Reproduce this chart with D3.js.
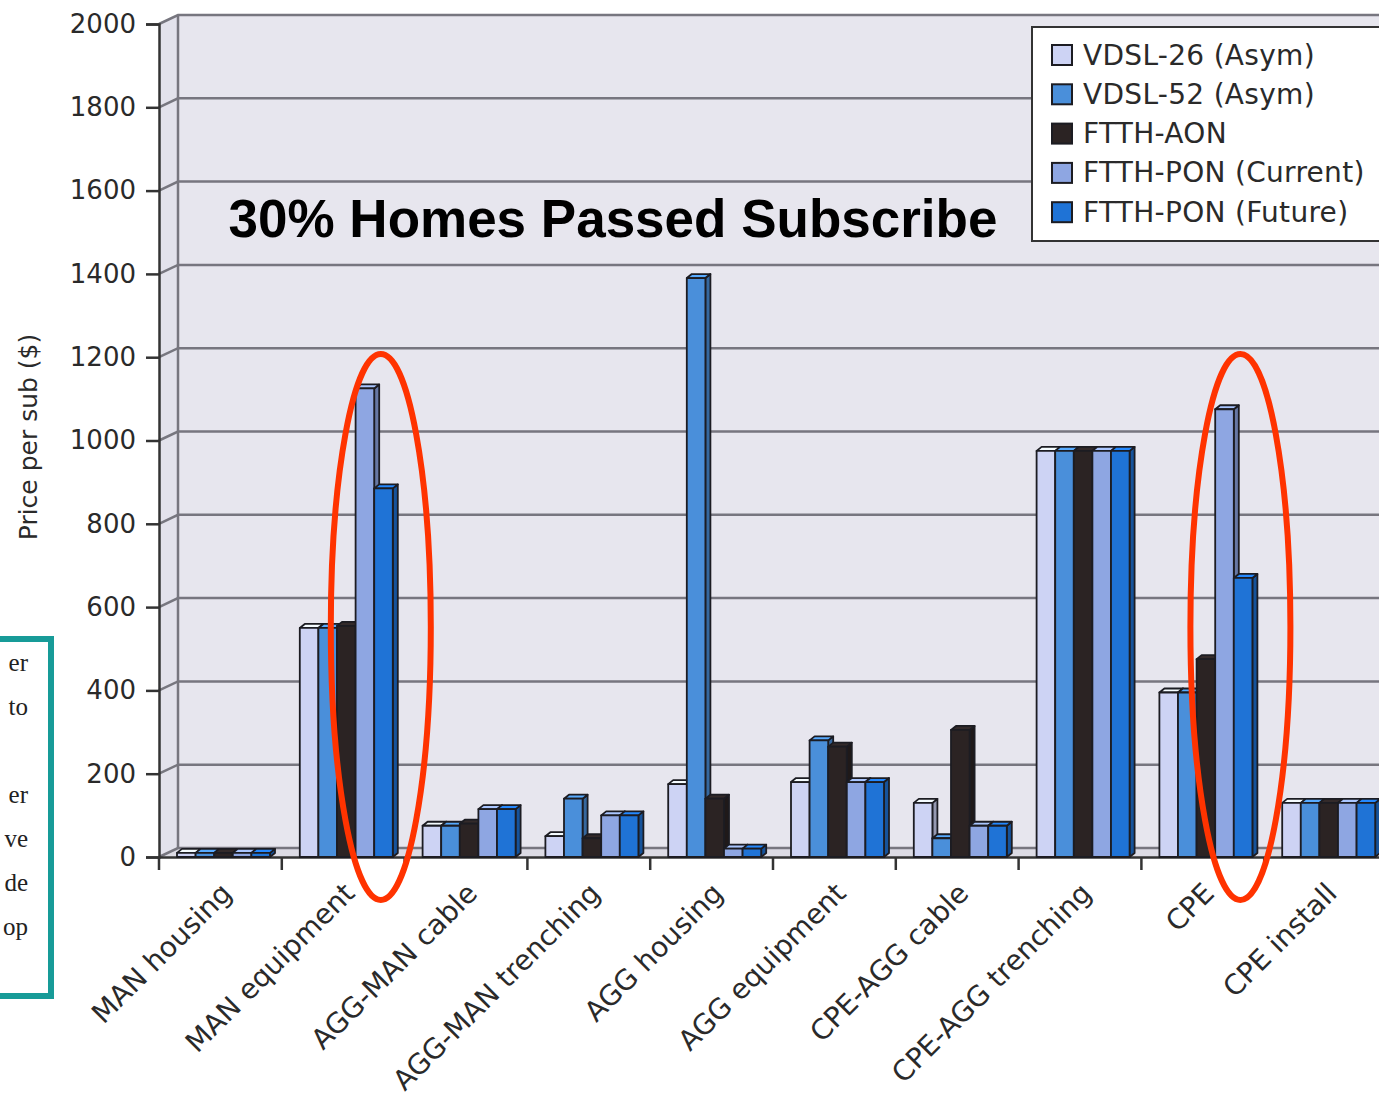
<!DOCTYPE html>
<html>
<head>
<meta charset="utf-8">
<script src="https://cdn.jsdelivr.net/npm/d3@7"></script>
<style>
  body { margin: 0; background: #ffffff; }
  svg { display: block; }
</style>
</head>
<body>
<svg id="chart" width="1379" height="1100"></svg>
<script>
// Cost categories along the x axis
const categories = [
  "MAN housing", "MAN equipment", "AGG-MAN cable", "AGG-MAN trenching",
  "AGG housing", "AGG equipment", "CPE-AGG cable", "CPE-AGG trenching",
  "CPE", "CPE install"
];
// Access technologies (series)
const seriesNames = [
  "VDSL-26 (Asym)", "VDSL-52 (Asym)", "FTTH-AON",
  "FTTH-PON (Current)", "FTTH-PON (Future)"
];
// Price per subscriber ($) for each technology, per category
const vdsl26     = [10, 550,  75,  50,  175, 180, 130, 975, 395, 130];
const vdsl52     = [10, 550,  75, 140, 1390, 280,  45, 975, 395, 130];
const ftthAon    = [10, 555,  80,  45,  140, 265, 305, 975, 475, 130];
const ponCurrent = [10, 1125, 115, 100,  20, 180,  75, 975, 1075, 130];
const ponFuture  = [10, 885, 115, 100,  20, 180,  75, 975, 670, 130];
const yTicks = [0, 200, 400, 600, 800, 1000, 1200, 1400, 1600, 1800, 2000];
// Highlighted categories
const highlighted = ["MAN equipment", "CPE"];
// Fragment of the neighbouring text box
const sideNote = ["er", "to", "", "er", "ve", "de", "op"];

const seriesValues = [vdsl26, vdsl52, ftthAon, ponCurrent, ponFuture];
const seriesFill  = ["#cdd3f4", "#4a8fda", "#2b2323", "#8ea6e2", "#1f73d6"];

const svg = d3.select("#chart");

// Scales
const y = d3.scaleLinear().domain([0, 2000]).range([857, 24]);
const x = d3.scaleBand().domain(categories).range([159, 159 + 1228]);
const inner = d3.scaleBand().domain(seriesNames).range([18, 111]);

// 3-D wall depth and bar depth
const WX = 19, WY = -9;
const BX = 5, BY = -4;
const xRight = 1400;

// Neighbouring text box (partially visible)
const note = svg.append("g");
note.append("rect")
  .attr("x", -20).attr("y", 639).attr("width", 71).attr("height", 357)
  .attr("fill", "#ffffff").attr("stroke", "#179b98").attr("stroke-width", 6);
note.selectAll("text").data(sideNote).join("text")
  .attr("x", 28).attr("y", (d, i) => 671 + i * 44)
  .attr("text-anchor", "end")
  .attr("font-family", "'Liberation Serif', serif")
  .attr("font-size", 25).attr("fill", "#222")
  .text(d => d);

// Walls
const walls = svg.append("g");
walls.append("rect")
  .attr("x", 159 + WX).attr("y", y(2000) + WY)
  .attr("width", xRight - 159 - WX).attr("height", y(0) - y(2000))
  .attr("fill", "#e7e6ee");
walls.append("polygon")
  .attr("points", [[159, y(2000)], [159 + WX, y(2000) + WY], [159 + WX, y(0) + WY], [159, y(0)]].join(" "))
  .attr("fill", "#e3e2ec");
walls.append("polygon")
  .attr("points", [[159, y(0)], [159 + WX, y(0) + WY], [xRight, y(0) + WY], [xRight, y(0)]].join(" "))
  .attr("fill", "#dcdbe4");

// Gridlines on the back and side walls
const grid = svg.append("g").attr("stroke", "#77767f").attr("stroke-width", 2.5).attr("fill", "none");
grid.selectAll("path").data(yTicks).join("path")
  .attr("d", v => `M159,${y(v)}L${159 + WX},${y(v) + WY}L${xRight},${y(v) + WY}`);
grid.append("line")
  .attr("x1", 159 + WX).attr("x2", 159 + WX)
  .attr("y1", y(2000) + WY).attr("y2", y(0) + WY);

// Y axis
const yAxis = svg.append("g").attr("transform", "translate(159,0)")
  .call(d3.axisLeft(y).tickValues(yTicks).tickSize(13).tickPadding(10).tickFormat(d3.format("d")));
yAxis.select(".domain").attr("stroke", "#333").attr("stroke-width", 2.5);
yAxis.selectAll(".tick line").attr("stroke", "#333").attr("stroke-width", 2.5);
yAxis.selectAll(".tick text")
  .attr("font-family", "'DejaVu Sans', sans-serif")
  .attr("font-size", 26).attr("fill", "#2a2a2a");

// X axis
const xAxis = svg.append("g").attr("transform", `translate(0,${y(0)})`)
  .call(d3.axisBottom(x).tickSize(0).tickFormat(""));
xAxis.select(".domain").attr("stroke", "#333").attr("stroke-width", 2.5);
svg.append("g").selectAll("line")
  .data(categories.concat(["end"]))
  .join("line")
  .attr("x1", d => d === "end" ? x.range()[1] : x(d))
  .attr("x2", d => d === "end" ? x.range()[1] : x(d))
  .attr("y1", y(0)).attr("y2", y(0) + 13)
  .attr("stroke", "#333").attr("stroke-width", 2.5);
svg.append("g").selectAll("text").data(categories).join("text")
  .attr("transform", d => `translate(${x(d) + x.bandwidth() / 2 + 13},${y(0) + 38}) rotate(-45)`)
  .attr("text-anchor", "end")
  .attr("font-family", "'DejaVu Sans', sans-serif")
  .attr("font-size", 28).attr("fill", "#2a2a2a")
  .text(d => d);

// Y axis title
svg.append("text")
  .attr("transform", "translate(30,437) rotate(-90)")
  .attr("text-anchor", "middle").attr("dominant-baseline", "middle")
  .attr("font-family", "'DejaVu Sans', sans-serif")
  .attr("font-size", 25).attr("fill", "#2a2a2a")
  .text("Price per sub ($)");

// 3-D columns
const bars = [];
categories.forEach((c, ci) => {
  seriesNames.forEach((s, si) => {
    bars.push({ cat: c, series: s, si, value: seriesValues[si][ci] });
  });
});
const barG = svg.append("g");
bars.forEach(b => {
  const x0 = x(b.cat) + inner(b.series);
  const w = inner.bandwidth();
  const yt = y(b.value), yb = y(0);
  const base = d3.color(seriesFill[b.si]);
  const g = barG.append("g").attr("stroke", "#1c1c22").attr("stroke-width", 1.8).attr("stroke-linejoin", "round");
  g.append("polygon")
    .attr("points", [[x0 + w, yt], [x0 + w + BX, yt + BY], [x0 + w + BX, yb + BY], [x0 + w, yb]].join(" "))
    .attr("fill", base.darker(0.9));
  g.append("polygon")
    .attr("points", [[x0, yt], [x0 + BX, yt + BY], [x0 + w + BX, yt + BY], [x0 + w, yt]].join(" "))
    .attr("fill", base.brighter(0.5));
  g.append("rect")
    .attr("x", x0).attr("y", yt).attr("width", w).attr("height", yb - yt)
    .attr("fill", seriesFill[b.si]);
});

// Title
svg.append("text")
  .attr("x", 613).attr("y", 237)
  .attr("text-anchor", "middle")
  .attr("font-family", "'Liberation Sans', Arial, sans-serif")
  .attr("font-weight", "bold").attr("font-size", 53).attr("fill", "#000")
  .text("30% Homes Passed Subscribe");

// Legend
const legend = svg.append("g");
legend.append("rect")
  .attr("x", 1032).attr("y", 27).attr("width", 380).attr("height", 214)
  .attr("fill", "#ffffff").attr("stroke", "#333").attr("stroke-width", 2);
const items = legend.selectAll("g.item").data(seriesNames).join("g")
  .attr("class", "item")
  .attr("transform", (d, i) => `translate(1052,${55 + i * 39.3})`);
items.append("rect")
  .attr("x", 0).attr("y", -10).attr("width", 20).attr("height", 20)
  .attr("fill", (d, i) => seriesFill[i]).attr("stroke", "#1c1c22").attr("stroke-width", 2);
items.append("text")
  .attr("x", 31).attr("y", 0).attr("dominant-baseline", "central")
  .attr("font-family", "'DejaVu Sans', sans-serif")
  .attr("font-size", 28).attr("letter-spacing", 0.3).attr("fill", "#2a2a2a")
  .text(d => d);

// Highlight ellipses
svg.append("g").selectAll("ellipse").data(highlighted).join("ellipse")
  .attr("cx", d => x(d) + 99).attr("cy", 627)
  .attr("rx", 50).attr("ry", 273)
  .attr("fill", "none").attr("stroke", "#ff3300").attr("stroke-width", 6);
</script>
</body>
</html>
